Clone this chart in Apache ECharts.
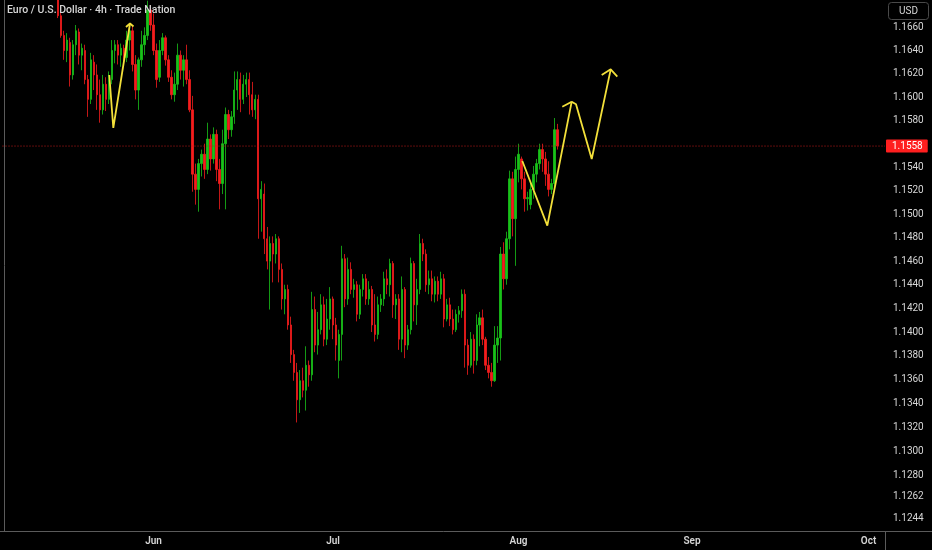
<!DOCTYPE html>
<html><head><meta charset="utf-8">
<script src="https://cdn.jsdelivr.net/npm/echarts@6/dist/echarts.min.js"></script>
<style>html,body{margin:0;padding:0;background:#000;}#c{width:932px;height:550px;}</style>
</head><body><div id="c"></div>
<script>
// ---- labels ----
const chartTitle = 'Euro / U.S. Dollar · 4h · Trade Nation';
const currency = 'USD';
const lastPrice = 1.1558;
const priceTicks = [1.1660,1.1640,1.1620,1.1600,1.1580,1.1540,1.1520,1.1500,1.1480,1.1460,1.1440,1.1420,1.1400,1.1380,1.1360,1.1340,1.1320,1.1300,1.1280,1.1262,1.1244];
const monthNames = ['Jun','Jul','Aug','Sep','Oct'];
const monthBars = [50,110,172,230,289];
const leadingEmptyBars = 18;
const totalBars = 295;

// ---- candles: [open, close, low, high] ----
const candlesLateMay = [
[1.1692,1.1670,1.1668,1.1696],[1.1670,1.1653,1.1651,1.1679],[1.1653,1.1640,1.1632,1.1657],[1.1640,1.1649,1.1630,1.1655],
[1.1647,1.1619,1.1609,1.1651],[1.1619,1.1645,1.1615,1.1649],[1.1645,1.1657,1.1636,1.1662],[1.1656,1.1636,1.1628,1.1659],
[1.1636,1.1642,1.1623,1.1646],[1.1640,1.1615,1.1611,1.1645],[1.1615,1.1598,1.1583,1.1619],[1.1598,1.1632,1.1594,1.1638],
[1.1630,1.1619,1.1606,1.1636],[1.1619,1.1602,1.1589,1.1628],[1.1602,1.1589,1.1578,1.1615],[1.1589,1.1611,1.1585,1.1619],
[1.1611,1.1598,1.1588,1.1617],[1.1598,1.1615,1.1594,1.1622],[1.1615,1.1640,1.1611,1.1649],[1.1640,1.1645,1.1629,1.1649],
[1.1645,1.1636,1.1628,1.1649],[1.1636,1.1642,1.1626,1.1646],[1.1642,1.1632,1.1627,1.1645],[1.1634,1.1649,1.1630,1.1657],
[1.1649,1.1657,1.1640,1.1662],[1.1657,1.1628,1.1622,1.1662],[1.1628,1.1606,1.1598,1.1636],[1.1606,1.1632,1.1589,1.1634],
[1.1632,1.1645,1.1626,1.1657],[1.1645,1.1653,1.1636,1.1660],[1.1653,1.1675,1.1649,1.1683],[1.1675,1.1662,1.1657,1.1679]
];
const candlesJune = [
[1.1662,1.1640,1.1636,1.1672],[1.1640,1.1615,1.1608,1.1646],[1.1617,1.1640,1.1613,1.1649],[1.1640,1.1651,1.1636,1.1655],
[1.1651,1.1632,1.1627,1.1653],[1.1632,1.1617,1.1613,1.1636],[1.1617,1.1602,1.1598,1.1623],[1.1602,1.1611,1.1596,1.1621],
[1.1611,1.1636,1.1606,1.1646],[1.1636,1.1623,1.1615,1.1640],[1.1623,1.1632,1.1609,1.1636],[1.1632,1.1615,1.1611,1.1645],
[1.1615,1.1589,1.1587,1.1623],[1.1589,1.1534,1.1519,1.1601],[1.1534,1.1521,1.1508,1.1543],[1.1521,1.1543,1.1502,1.1547],
[1.1543,1.1551,1.1532,1.1555],[1.1551,1.1538,1.1530,1.1560],[1.1538,1.1564,1.1534,1.1578],[1.1564,1.1547,1.1537,1.1568],
[1.1547,1.1568,1.1543,1.1574],[1.1568,1.1538,1.1528,1.1572],[1.1538,1.1526,1.1504,1.1547],[1.1526,1.1560,1.1517,1.1572],
[1.1560,1.1585,1.1504,1.1591],[1.1585,1.1572,1.1564,1.1589],[1.1572,1.1583,1.1566,1.1588],[1.1583,1.1606,1.1577,1.1622],
[1.1606,1.1615,1.1589,1.1622],[1.1615,1.1598,1.1587,1.1621],[1.1598,1.1611,1.1594,1.1619],[1.1611,1.1615,1.1600,1.1621],
[1.1615,1.1602,1.1585,1.1621],[1.1602,1.1589,1.1583,1.1613],[1.1589,1.1598,1.1581,1.1602],[1.1598,1.1513,1.1479,1.1602],
[1.1513,1.1521,1.1485,1.1528],[1.1517,1.1479,1.1466,1.1526],[1.1479,1.1460,1.1453,1.1489],[1.1460,1.1475,1.1419,1.1481],
[1.1475,1.1466,1.1442,1.1481],[1.1466,1.1479,1.1458,1.1483],[1.1479,1.1453,1.1442,1.1481],[1.1453,1.1428,1.1419,1.1458],
[1.1428,1.1436,1.1415,1.1440],[1.1436,1.1406,1.1402,1.1440],[1.1406,1.1381,1.1374,1.1413],[1.1381,1.1366,1.1359,1.1385],
[1.1366,1.1343,1.1324,1.1374],[1.1343,1.1359,1.1332,1.1368],[1.1359,1.1351,1.1345,1.1370],[1.1351,1.1372,1.1334,1.1388],
[1.1372,1.1364,1.1354,1.1376],[1.1364,1.1419,1.1359,1.1434],[1.1419,1.1389,1.1383,1.1430],[1.1389,1.1402,1.1381,1.1417],
[1.1402,1.1423,1.1398,1.1432],[1.1423,1.1394,1.1388,1.1430],[1.1394,1.1411,1.1389,1.1428],[1.1411,1.1428,1.1402,1.1438]
];
const candlesJuly = [
[1.1428,1.1406,1.1394,1.1430],[1.1406,1.1389,1.1376,1.1412],[1.1376,1.1398,1.1361,1.1402],[1.1398,1.1462,1.1376,1.1473],
[1.1462,1.1428,1.1421,1.1466],[1.1428,1.1453,1.1423,1.1463],[1.1453,1.1436,1.1432,1.1459],[1.1436,1.1440,1.1429,1.1445],
[1.1440,1.1415,1.1409,1.1443],[1.1415,1.1436,1.1411,1.1440],[1.1436,1.1445,1.1430,1.1449],[1.1445,1.1428,1.1423,1.1449],
[1.1428,1.1436,1.1423,1.1443],[1.1436,1.1406,1.1400,1.1439],[1.1406,1.1398,1.1392,1.1432],[1.1398,1.1423,1.1394,1.1430],
[1.1423,1.1428,1.1417,1.1432],[1.1428,1.1445,1.1422,1.1451],[1.1445,1.1440,1.1432,1.1453],[1.1440,1.1458,1.1430,1.1462],
[1.1458,1.1423,1.1412,1.1460],[1.1423,1.1428,1.1411,1.1432],[1.1428,1.1394,1.1385,1.1432],[1.1394,1.1436,1.1383,1.1447],
[1.1436,1.1389,1.1378,1.1438],[1.1389,1.1402,1.1385,1.1406],[1.1402,1.1458,1.1398,1.1463],[1.1458,1.1423,1.1409,1.1460],
[1.1423,1.1436,1.1406,1.1445],[1.1436,1.1475,1.1432,1.1483],[1.1475,1.1466,1.1460,1.1479],[1.1466,1.1440,1.1434,1.1470],
[1.1440,1.1445,1.1432,1.1452],[1.1445,1.1432,1.1426,1.1452],[1.1432,1.1443,1.1425,1.1447],[1.1443,1.1432,1.1426,1.1447],
[1.1432,1.1445,1.1428,1.1451],[1.1445,1.1411,1.1404,1.1449],[1.1411,1.1423,1.1409,1.1428],[1.1423,1.1411,1.1405,1.1429],
[1.1411,1.1402,1.1398,1.1419],[1.1402,1.1415,1.1400,1.1419],[1.1415,1.1418,1.1408,1.1422],[1.1418,1.1432,1.1412,1.1436],
[1.1432,1.1389,1.1370,1.1436],[1.1389,1.1372,1.1364,1.1394],[1.1372,1.1394,1.1370,1.1400],[1.1394,1.1376,1.1365,1.1398],
[1.1376,1.1406,1.1372,1.1415],[1.1406,1.1412,1.1388,1.1417],[1.1412,1.1394,1.1389,1.1419],[1.1394,1.1372,1.1368,1.1396],
[1.1372,1.1366,1.1361,1.1379],[1.1366,1.1359,1.1354,1.1374],[1.1359,1.1389,1.1358,1.1405],[1.1389,1.1395,1.1374,1.1405]
];
const candlesAugust = [
[1.1395,1.1466,1.1376,1.1472],[1.1466,1.1445,1.1436,1.1476],[1.1445,1.1479,1.1440,1.1485],[1.1479,1.1530,1.1470,1.1537],
[1.1530,1.1496,1.1481,1.1536],[1.1496,1.1538,1.1456,1.1549],
[1.1538,1.1551,1.1527,1.1560],[1.1547,1.1530,1.1521,1.1549],[1.1530,1.1513,1.1502,1.1536],[1.1513,1.1514,1.1503,1.1519],
[1.1508,1.1521,1.1504,1.1527],[1.1521,1.1534,1.1513,1.1541],[1.1534,1.1543,1.1527,1.1547],[1.1543,1.1555,1.1538,1.1560],
[1.1555,1.1547,1.1536,1.1560],[1.1547,1.1534,1.1524,1.1553],[1.1534,1.1521,1.1515,1.1545],[1.1521,1.1526,1.1517,1.1530],
[1.1526,1.1572,1.1521,1.1582],[1.1572,1.1558,1.1555,1.1577]
];

// ---- drawn forecast arrows: [bar index, price] ----
const arrowA = [[35.20,1.16189],[36.54,1.15735],[42.12,1.16633]];
const arrowAHead = [[40.78,1.16603],[42.12,1.16633],[43.29,1.16607]];
const arrowB = [[173.26,1.15452],[181.62,1.14901],[189.77,1.15960],[191.21,1.15938],[196.46,1.15469],[202.81,1.16238]];
const arrowBHead1 = [[186.63,1.15917],[189.77,1.15960]];
const arrowBHead2 = [[199.80,1.16189],[202.81,1.16238],[205.02,1.16175]];

// ---- build ----
const candles = [].concat(candlesLateMay, candlesJune, candlesJuly, candlesAugust);
const seriesData = [];
for (let i = 0; i < leadingEmptyBars; i++) seriesData.push(['-','-','-','-']);
candles.forEach(c => seriesData.push(c));
const categories = [];
for (let i = 0; i < totalBars; i++) categories.push(String(i));

const UP = '#19c219', DOWN = '#f51d1d', YEL = '#f3e03a', TXT = '#d6d6d6', AX = '#5b5b5b';
const FONT = 'Roboto, "Noto Sans", sans-serif';
const arrowStyle = { color: YEL, width: 1.8 };
function arrowSeries(data) {
  return { type: 'line', xAxisIndex: 1, yAxisIndex: 0, data: data, symbol: 'none', silent: true,
    lineStyle: arrowStyle, z: 5, animation: false };
}

const chart = echarts.init(document.getElementById('c'), null, { renderer: 'canvas' });
chart.setOption({
  backgroundColor: '#000000',
  animation: false,
  title: { text: chartTitle, left: 7, top: 5, padding: 0,
    textStyle: { color: TXT, fontSize: 10.5, fontWeight: 500, fontFamily: FONT } },
  grid: { left: 2.5, right: 47, top: 0, bottom: 19, containLabel: false },
  xAxis: [{
    type: 'category', data: categories, boundaryGap: true,
    axisLine: { show: true, lineStyle: { color: AX, width: 1 } },
    axisTick: { show: false }, splitLine: { show: false },
    axisLabel: {
      interval: (idx) => monthBars.indexOf(idx) >= 0,
      formatter: (val, idx) => { const k = monthBars.indexOf(Number(val)); return k >= 0 ? monthNames[k] : ''; },
      color: TXT, fontSize: 10, fontWeight: 600, fontFamily: FONT, margin: 5
    }
  }, {
    type: 'value', min: -0.5, max: totalBars - 0.5, show: false
  }],
  yAxis: [{
    type: 'log', logBase: 10, position: 'right', min: 1.12334, max: 1.16836,
    axisLine: { show: true, lineStyle: { color: AX, width: 1 } },
    axisTick: { show: false }, splitLine: { show: false },
    axisLabel: { customValues: priceTicks, formatter: (v) => Number(v).toFixed(4),
      color: TXT, fontSize: 10, fontFamily: FONT, margin: 8 }
  }],
  series: [{
    type: 'candlestick', data: seriesData, barWidth: 1.8, clip: true,
    itemStyle: { color: UP, color0: DOWN, borderColor: UP, borderColor0: DOWN, borderWidth: 0.8 }
  }, {
    type: 'line', xAxisIndex: 1, yAxisIndex: 0, symbol: 'none', silent: true, z: 4, animation: false,
    data: [[-0.5, lastPrice], [totalBars - 0.5, lastPrice]],
    lineStyle: { color: '#c01a1a', type: [1, 2], width: 1 },
    endLabel: { show: true, formatter: () => lastPrice.toFixed(4), distance: 1,
      color: '#ffffff', backgroundColor: '#ff1f1f', padding: [2, 5, 1, 6],
      fontSize: 10, fontFamily: FONT, borderRadius: 1 }
  },
  arrowSeries(arrowA), arrowSeries(arrowAHead), arrowSeries(arrowB), arrowSeries(arrowBHead1), arrowSeries(arrowBHead2)
  ],
  graphic: [
    { type: 'line', shape: { x1: 885, y1: 531.5, x2: 932, y2: 531.5 }, style: { stroke: AX, lineWidth: 1 }, silent: true },
    { type: 'line', shape: { x1: 0, y1: 531.5, x2: 3, y2: 531.5 }, style: { stroke: AX, lineWidth: 1 }, silent: true },
    { type: 'line', shape: { x1: 885.5, y1: 531, x2: 885.5, y2: 550 }, style: { stroke: AX, lineWidth: 1 }, silent: true },
    { type: 'rect', shape: { x: 888.5, y: 2.5, width: 40, height: 17, r: 3 }, style: { fill: 'transparent', stroke: '#4a4a4a', lineWidth: 1 }, silent: true },
    { type: 'text', x: 908.5, y: 11, style: { text: currency, fill: TXT, fontSize: 10, fontFamily: FONT, align: 'center', verticalAlign: 'middle' }, silent: true }
  ]
});
</script>
</body></html>
